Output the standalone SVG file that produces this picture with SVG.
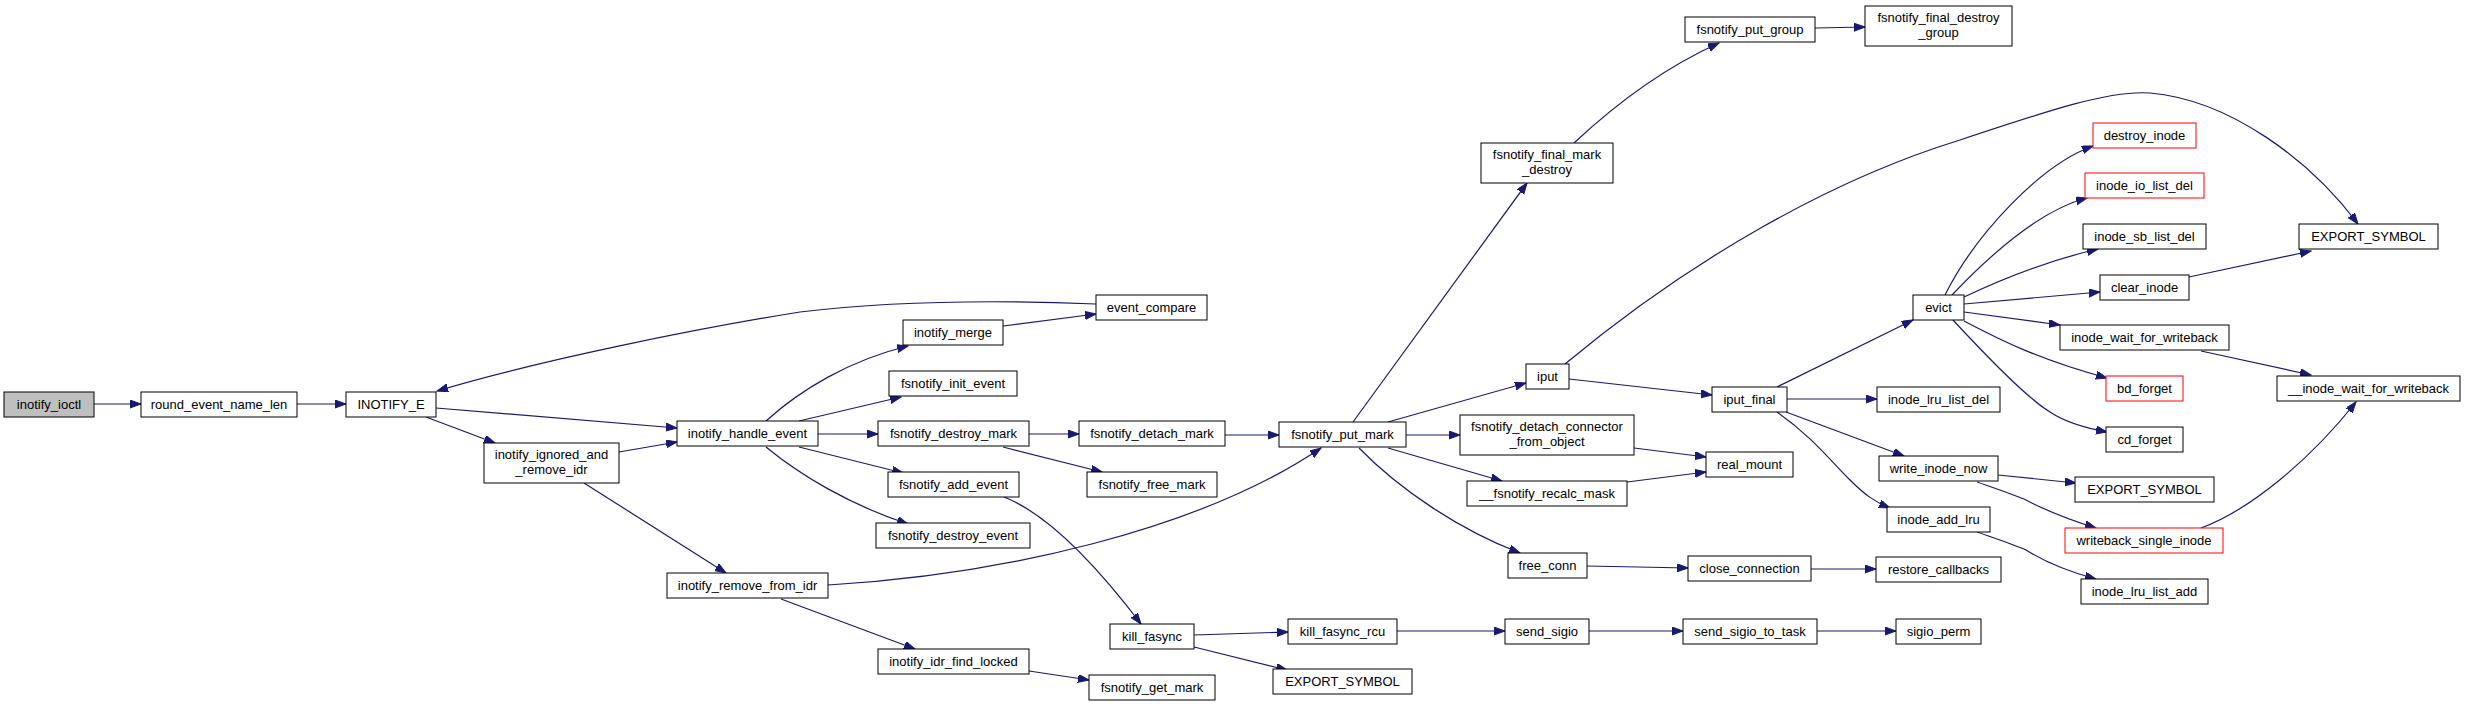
<svg xmlns="http://www.w3.org/2000/svg" width="2465" height="706" viewBox="0 0 2465 706">
<defs>
<style>
.n rect{fill:#fff;stroke:#000;stroke-width:1}
.n.root rect{fill:#bfbfbf;stroke:#000}
.n.red rect{stroke:#ff0000}
.n text{font-family:"Liberation Sans",Arial,sans-serif;font-size:13px;fill:#000;text-anchor:middle}
.e path{fill:none;stroke:#191970;stroke-width:1.2}
</style>
<marker id="ah" markerUnits="userSpaceOnUse" markerWidth="12" markerHeight="10" refX="11" refY="4" orient="auto">
<path d="M0,0 L11,4 L0,8 z" fill="#191970" stroke="#191970"/>
</marker>
</defs>
<rect x="0" y="0" width="2465" height="706" fill="#fff"/>
<g id="connectors" class="e" marker-end="url(#ah)">
<path d="M94,404 L141,404" marker-end="url(#ah)"/>
<path d="M297,404 L346,404" marker-end="url(#ah)"/>
<path d="M436,408 L677,428" marker-end="url(#ah)"/>
<path d="M426,417 L495,443" marker-end="url(#ah)"/>
<path d="M619,452 L677,442" marker-end="url(#ah)"/>
<path d="M584,483 L726,573" marker-end="url(#ah)"/>
<path d="M1096,304 C1000,300 900,300 800,312 C700,328 540,360 437,391" marker-end="url(#ah)"/>
<path d="M1003,326 L1096,314" marker-end="url(#ah)"/>
<path d="M766,421 C800,390 850,360 908,346" marker-end="url(#ah)"/>
<path d="M799,421 L901,397" marker-end="url(#ah)"/>
<path d="M818,434 L878,434" marker-end="url(#ah)"/>
<path d="M1029,434 L1079,434" marker-end="url(#ah)"/>
<path d="M1225,435 L1279,435" marker-end="url(#ah)"/>
<path d="M1003,447 L1102,472" marker-end="url(#ah)"/>
<path d="M799,447 L903,473" marker-end="url(#ah)"/>
<path d="M766,447 C800,475 850,505 908,524" marker-end="url(#ah)"/>
<path d="M1004,497 C1050,515 1100,570 1141,624" marker-end="url(#ah)"/>
<path d="M828,585 C1000,575 1200,530 1321,448" marker-end="url(#ah)"/>
<path d="M781,599 L915,649" marker-end="url(#ah)"/>
<path d="M1029,671 L1089,680" marker-end="url(#ah)"/>
<path d="M1194,635 L1288,632" marker-end="url(#ah)"/>
<path d="M1194,647 L1287,670" marker-end="url(#ah)"/>
<path d="M1353,422 L1527,183" marker-end="url(#ah)"/>
<path d="M1574,143 C1620,100 1670,65 1719,43" marker-end="url(#ah)"/>
<path d="M1815,28 L1865,27" marker-end="url(#ah)"/>
<path d="M1388,422 L1526,383" marker-end="url(#ah)"/>
<path d="M1406,435 L1460,435" marker-end="url(#ah)"/>
<path d="M1388,448 L1502,481" marker-end="url(#ah)"/>
<path d="M1359,448 C1400,490 1460,530 1520,553" marker-end="url(#ah)"/>
<path d="M1634,448 L1706,457" marker-end="url(#ah)"/>
<path d="M1627,482 L1706,472" marker-end="url(#ah)"/>
<path d="M1569,379 L1712,395" marker-end="url(#ah)"/>
<path d="M1565,364 C1690,260 1830,180 1960,140 C2050,110 2110,90 2150,93 C2230,100 2310,160 2358,224" marker-end="url(#ah)"/>
<path d="M1587,566 L1688,568" marker-end="url(#ah)"/>
<path d="M1811,569 L1876,569" marker-end="url(#ah)"/>
<path d="M1397,631 L1505,631" marker-end="url(#ah)"/>
<path d="M1589,631 L1683,631" marker-end="url(#ah)"/>
<path d="M1817,631 L1896,631" marker-end="url(#ah)"/>
<path d="M1777,387 L1913,320" marker-end="url(#ah)"/>
<path d="M1787,399 L1877,399" marker-end="url(#ah)"/>
<path d="M1786,412 L1904,456" marker-end="url(#ah)"/>
<path d="M1777,412 C1810,435 1830,460 1850,480 C1865,495 1875,502 1890,508" marker-end="url(#ah)"/>
<path d="M1945,295 C1975,235 2040,165 2093,146" marker-end="url(#ah)"/>
<path d="M1952,295 C1990,255 2040,210 2087,198" marker-end="url(#ah)"/>
<path d="M1964,297 C2000,280 2050,260 2098,249" marker-end="url(#ah)"/>
<path d="M1964,304 L2100,292" marker-end="url(#ah)"/>
<path d="M1964,312 L2060,325" marker-end="url(#ah)"/>
<path d="M1964,321 C2000,340 2040,360 2107,378" marker-end="url(#ah)"/>
<path d="M1953,320 C1990,360 2030,400 2050,412 C2065,422 2085,428 2107,432" marker-end="url(#ah)"/>
<path d="M2189,277 L2311,251" marker-end="url(#ah)"/>
<path d="M2201,351 L2311,375" marker-end="url(#ah)"/>
<path d="M1998,475 L2076,483" marker-end="url(#ah)"/>
<path d="M1977,482 C2000,490 2015,495 2026,500 C2045,510 2070,520 2096,528" marker-end="url(#ah)"/>
<path d="M2201,528 C2250,510 2310,460 2356,402" marker-end="url(#ah)"/>
<path d="M1977,532 C2000,540 2015,545 2026,550 C2045,562 2070,572 2096,579" marker-end="url(#ah)"/>
</g>
<g id="inotify_ioctl" class="n root"><rect x="4" y="392" width="90" height="25"/><text x="49" y="408.5">inotify_ioctl</text></g>
<g id="round_event_name_len" class="n"><rect x="141" y="392" width="156" height="25"/><text x="219" y="408.5">round_event_name_len</text></g>
<g id="INOTIFY_E" class="n"><rect x="346" y="392" width="90" height="25"/><text x="391" y="408.5">INOTIFY_E</text></g>
<g id="inotify_ignored_and_remove_idr" class="n"><rect x="484" y="443" width="135" height="40"/><text x="551.5" y="459">inotify_ignored_and</text><text x="551.5" y="474">_remove_idr</text></g>
<g id="inotify_handle_event" class="n"><rect x="677" y="421" width="141" height="25"/><text x="747.5" y="437.5">inotify_handle_event</text></g>
<g id="event_compare" class="n"><rect x="1096" y="295" width="111" height="25"/><text x="1151.5" y="311.5">event_compare</text></g>
<g id="inotify_merge" class="n"><rect x="903" y="320" width="100" height="25"/><text x="953" y="336.5">inotify_merge</text></g>
<g id="fsnotify_init_event" class="n"><rect x="889" y="371" width="128" height="25"/><text x="953" y="387.5">fsnotify_init_event</text></g>
<g id="fsnotify_destroy_mark" class="n"><rect x="878" y="421" width="151" height="25"/><text x="953.5" y="437.5">fsnotify_destroy_mark</text></g>
<g id="fsnotify_detach_mark" class="n"><rect x="1079" y="421" width="146" height="25"/><text x="1152" y="437.5">fsnotify_detach_mark</text></g>
<g id="fsnotify_add_event" class="n"><rect x="888" y="472" width="131" height="25"/><text x="953.5" y="488.5">fsnotify_add_event</text></g>
<g id="fsnotify_free_mark" class="n"><rect x="1087" y="472" width="130" height="25"/><text x="1152" y="488.5">fsnotify_free_mark</text></g>
<g id="fsnotify_destroy_event" class="n"><rect x="876" y="523" width="154" height="25"/><text x="953" y="539.5">fsnotify_destroy_event</text></g>
<g id="inotify_remove_from_idr" class="n"><rect x="667" y="573" width="161" height="25"/><text x="747.5" y="589.5">inotify_remove_from_idr</text></g>
<g id="kill_fasync" class="n"><rect x="1110" y="624" width="84" height="25"/><text x="1152" y="640.5">kill_fasync</text></g>
<g id="inotify_idr_find_locked" class="n"><rect x="878" y="649" width="151" height="25"/><text x="953.5" y="665.5">inotify_idr_find_locked</text></g>
<g id="fsnotify_get_mark" class="n"><rect x="1089" y="675" width="126" height="25"/><text x="1152" y="691.5">fsnotify_get_mark</text></g>
<g id="fsnotify_put_mark" class="n"><rect x="1279" y="422" width="127" height="25"/><text x="1342.5" y="438.5">fsnotify_put_mark</text></g>
<g id="kill_fasync_rcu" class="n"><rect x="1288" y="619" width="109" height="25"/><text x="1342.5" y="635.5">kill_fasync_rcu</text></g>
<g id="EXPORT_SYMBOL_1" class="n"><rect x="1273" y="669" width="139" height="25"/><text x="1342.5" y="685.5">EXPORT_SYMBOL</text></g>
<g id="fsnotify_final_mark_destroy" class="n"><rect x="1481" y="143" width="132" height="40"/><text x="1547" y="159">fsnotify_final_mark</text><text x="1547" y="174">_destroy</text></g>
<g id="fsnotify_put_group" class="n"><rect x="1685" y="17" width="130" height="25"/><text x="1750" y="33.5">fsnotify_put_group</text></g>
<g id="fsnotify_final_destroy_group" class="n"><rect x="1865" y="6" width="147" height="40"/><text x="1938.5" y="22">fsnotify_final_destroy</text><text x="1938.5" y="37">_group</text></g>
<g id="iput" class="n"><rect x="1526" y="364" width="43" height="25"/><text x="1547.5" y="380.5">iput</text></g>
<g id="fsnotify_detach_connector_from_object" class="n"><rect x="1460" y="415" width="174" height="40"/><text x="1547" y="431">fsnotify_detach_connector</text><text x="1547" y="446">_from_object</text></g>
<g id="__fsnotify_recalc_mask" class="n"><rect x="1467" y="481" width="160" height="25"/><text x="1547" y="497.5">__fsnotify_recalc_mask</text></g>
<g id="free_conn" class="n"><rect x="1508" y="553" width="79" height="25"/><text x="1547.5" y="569.5">free_conn</text></g>
<g id="send_sigio" class="n"><rect x="1505" y="619" width="84" height="25"/><text x="1547" y="635.5">send_sigio</text></g>
<g id="iput_final" class="n"><rect x="1712" y="387" width="75" height="25"/><text x="1749.5" y="403.5">iput_final</text></g>
<g id="real_mount" class="n"><rect x="1706" y="452" width="87" height="25"/><text x="1749.5" y="468.5">real_mount</text></g>
<g id="close_connection" class="n"><rect x="1688" y="556" width="123" height="25"/><text x="1749.5" y="572.5">close_connection</text></g>
<g id="send_sigio_to_task" class="n"><rect x="1683" y="619" width="134" height="25"/><text x="1750" y="635.5">send_sigio_to_task</text></g>
<g id="evict" class="n"><rect x="1913" y="295" width="51" height="25"/><text x="1938.5" y="311.5">evict</text></g>
<g id="inode_lru_list_del" class="n"><rect x="1877" y="387" width="123" height="25"/><text x="1938.5" y="403.5">inode_lru_list_del</text></g>
<g id="write_inode_now" class="n"><rect x="1879" y="456" width="119" height="25"/><text x="1938.5" y="472.5">write_inode_now</text></g>
<g id="inode_add_lru" class="n"><rect x="1887" y="507" width="103" height="25"/><text x="1938.5" y="523.5">inode_add_lru</text></g>
<g id="restore_callbacks" class="n"><rect x="1876" y="557" width="125" height="25"/><text x="1938.5" y="573.5">restore_callbacks</text></g>
<g id="sigio_perm" class="n"><rect x="1896" y="619" width="85" height="25"/><text x="1938.5" y="635.5">sigio_perm</text></g>
<g id="destroy_inode" class="n red"><rect x="2093" y="123" width="103" height="25"/><text x="2144.5" y="139.5">destroy_inode</text></g>
<g id="inode_io_list_del" class="n red"><rect x="2085" y="173" width="119" height="25"/><text x="2144.5" y="189.5">inode_io_list_del</text></g>
<g id="inode_sb_list_del" class="n"><rect x="2083" y="224" width="123" height="25"/><text x="2144.5" y="240.5">inode_sb_list_del</text></g>
<g id="clear_inode" class="n"><rect x="2100" y="275" width="89" height="25"/><text x="2144.5" y="291.5">clear_inode</text></g>
<g id="inode_wait_for_writeback" class="n"><rect x="2060" y="325" width="169" height="25"/><text x="2144.5" y="341.5">inode_wait_for_writeback</text></g>
<g id="bd_forget" class="n red"><rect x="2106" y="376" width="77" height="25"/><text x="2144.5" y="392.5">bd_forget</text></g>
<g id="cd_forget" class="n"><rect x="2106" y="427" width="77" height="25"/><text x="2144.5" y="443.5">cd_forget</text></g>
<g id="EXPORT_SYMBOL_2" class="n"><rect x="2075" y="477" width="139" height="25"/><text x="2144.5" y="493.5">EXPORT_SYMBOL</text></g>
<g id="writeback_single_inode" class="n red"><rect x="2065" y="528" width="158" height="25"/><text x="2144" y="544.5">writeback_single_inode</text></g>
<g id="inode_lru_list_add" class="n"><rect x="2081" y="579" width="127" height="25"/><text x="2144.5" y="595.5">inode_lru_list_add</text></g>
<g id="EXPORT_SYMBOL_3" class="n"><rect x="2299" y="224" width="139" height="25"/><text x="2368.5" y="240.5">EXPORT_SYMBOL</text></g>
<g id="__inode_wait_for_writeback" class="n"><rect x="2277" y="376" width="183" height="25"/><text x="2368.5" y="392.5">__inode_wait_for_writeback</text></g>
</svg>
